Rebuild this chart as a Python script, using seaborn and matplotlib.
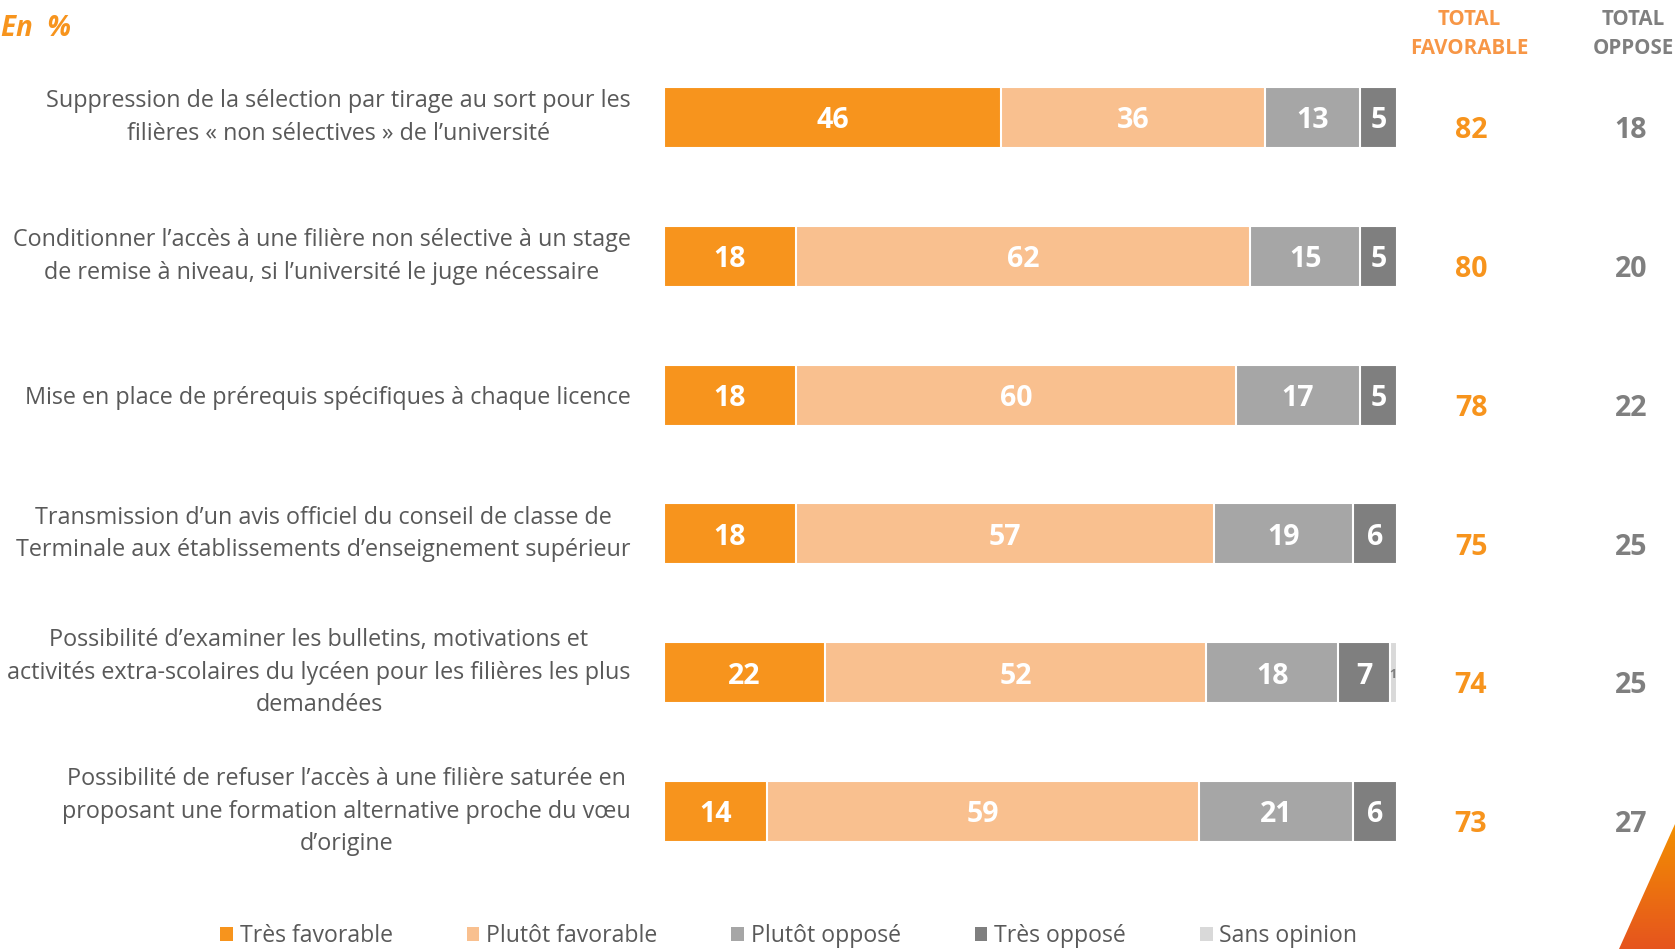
import matplotlib
matplotlib.use("Agg")
import matplotlib.pyplot as plt
from matplotlib.patches import Patch, Polygon
import numpy as np
import pandas as pd
import seaborn as sns

# --- data ---
questions = [
    "Suppression de la sélection par tirage au sort pour les\nfilières « non sélectives » de l’université",
    "Conditionner l’accès à une filière non sélective à un stage\nde remise à niveau, si l’université le juge nécessaire",
    "Mise en place de prérequis spécifiques à chaque licence",
    "Transmission d’un avis officiel du conseil de classe de\nTerminale aux établissements d’enseignement supérieur",
    "Possibilité d’examiner les bulletins, motivations et\nactivités extra-scolaires du lycéen pour les filières les plus\ndemandées",
    "Possibilité de refuser l’accès à une filière saturée en\nproposant une formation alternative proche du vœu\nd’origine",
]
tres_favorable = [46, 18, 18, 18, 22, 14]
plutot_favorable = [36, 62, 60, 57, 52, 59]
plutot_oppose = [13, 15, 17, 19, 18, 21]
tres_oppose = [5, 5, 5, 6, 7, 6]
sans_opinion = [0, 0, 0, 0, 1, 0]
total_favorable = [82, 80, 78, 75, 74, 73]
total_oppose = [18, 20, 22, 25, 25, 27]

series_names = ["Très favorable", "Plutôt favorable", "Plutôt opposé",
                "Très opposé", "Sans opinion"]
colors = ["#F7941D", "#F9C08F", "#A6A6A6", "#7F7F7F", "#D9D9D9"]
ORANGE = "#F7941D"
GREY = "#7F7F7F"
TEXT = "#595959"

sns.set_theme(style="white")
plt.rcParams["font.family"] = ["Open Sans", "DejaVu Sans"]

W, H = 1675, 949
fig = plt.figure(figsize=(W / 100, H / 100), dpi=100)

# bar area (pixels)
x0, x1 = 664, 1397
row0, step = 117.5, 138.8
top = row0 - step / 2
ax = fig.add_axes([x0 / W, 1 - (top + 6 * step) / H, (x1 - x0) / W, 6 * step / H])

segs = pd.DataFrame({n: v for n, v in zip(series_names, [tres_favorable, plutot_favorable,
                                                        plutot_oppose, tres_oppose, sans_opinion])},
                    index=questions)
cum = segs.cumsum(axis=1)

# stacked bars: draw cumulative totals from the outermost segment inwards
for name, col in reversed(list(zip(series_names, colors))):
    sns.barplot(x=cum[name].values, y=questions, color=col, orient="h", width=0.44,
                saturation=1, edgecolor="white", linewidth=1.5, errorbar=None, ax=ax)

ax.set_xlim(0, 100)
ax.set_ylim(5.5, -0.5)
ax.set_xticks([])
ax.set_xlabel("")
ax.set_ylabel("")
for s in ax.spines.values():
    s.set_visible(False)
ax.tick_params(axis="y", length=0, pad=24)
ax.set_yticks(range(len(questions)))
ax.set_yticklabels(questions, fontsize=16.8, color=TEXT)
for lab in ax.get_yticklabels():
    lab.set_multialignment("center")
    lab.set_linespacing(1.48)
    if "\n" in lab.get_text():
        lab.set_verticalalignment("center")

# values inside segments
for j, q in enumerate(questions):
    for name in series_names[:4]:
        v = segs.loc[q, name]
        left = cum.loc[q, name] - v
        ax.text(left + v / 2, j, f"{v}", ha="center", va="center_baseline",
                color="white", fontsize=20.5, fontweight="bold")
    v = segs.loc[q, "Sans opinion"]
    if v > 0:
        ax.text(cum.loc[q, "Sans opinion"] - v / 2, j, f"{v}", ha="center",
                va="center_baseline", color=GREY, fontsize=9, fontweight="bold")
    ax.text(110.1, j + 0.07, f"{total_favorable[j]}", ha="center", va="center_baseline",
            color=ORANGE, fontsize=20.5, fontweight="bold", clip_on=False)
    ax.text(131.9, j + 0.07, f"{total_oppose[j]}", ha="center", va="center_baseline",
            color=GREY, fontsize=20.5, fontweight="bold", clip_on=False)

# headers
fig.text(1469 / W, 1 - 34 / H, "TOTAL\nFAVORABLE", ha="center", va="center",
         color="#F79646", fontsize=14.8, fontweight="bold", linespacing=1.55)
fig.text(1633 / W, 1 - 34 / H, "TOTAL\nOPPOSE", ha="center", va="center",
         color=GREY, fontsize=14.8, fontweight="bold", linespacing=1.55)
fig.text(1 / W, 1 - 29 / H, "En  %", ha="left", va="center", color=ORANGE,
         fontsize=20, fontweight="bold", fontstyle="italic")

# legend
handles = [Patch(facecolor=c, edgecolor="none", label=n) for n, c in zip(series_names, colors)]
fig.legend(handles=handles, loc="center", bbox_to_anchor=(0.471, 1 - 936 / H), ncol=5,
           frameon=False, fontsize=16.6, handlelength=0.55, handleheight=0.55,
           handletextpad=0.3, columnspacing=3.2, labelcolor=TEXT)

# orange stripe in bottom-right corner
deco = fig.add_axes([0, 0, 1, 1], zorder=-1)
deco.set_xlim(0, W)
deco.set_ylim(H, 0)
deco.axis("off")
grad = np.linspace(0, 1, 100).reshape(-1, 1)
cmap = matplotlib.colors.LinearSegmentedColormap.from_list("o", ["#F39200", "#E6541E"])
img = deco.imshow(grad, cmap=cmap, extent=(1600, W, H, 820), aspect="auto")
clip = Polygon([(W, 824), (1619, H), (W, H)], closed=True, transform=deco.transData)
img.set_clip_path(clip)

fig.savefig("out.png", dpi=100)
